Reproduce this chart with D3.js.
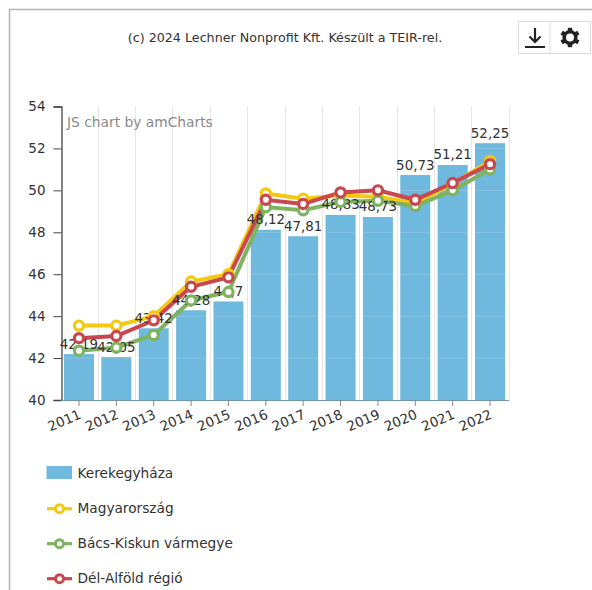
<!DOCTYPE html>
<html><head><meta charset="utf-8">
<script src="https://cdnjs.cloudflare.com/ajax/libs/d3/7.8.5/d3.min.js"></script>
<style>html,body{margin:0;padding:0;background:#fff}svg{display:block}text{font-family:"DejaVu Sans",sans-serif}</style>
</head><body><div id="c"></div>
<script>
const years=["2011","2012","2013","2014","2015","2016","2017","2018","2019","2020","2021","2022"];
const kerekegyhaza=[42.19,42.05,43.42,44.28,44.7,48.12,47.81,48.83,48.73,50.73,51.21,52.25];
const barLabels=["42,19","42,05","43,42","44,28","44,7","48,12","47,81","48,83","48,73","50,73","51,21","52,25"];
const magyarorszag=[43.55,43.55,44.0,45.65,46.0,49.85,49.6,49.75,49.7,49.4,50.3,51.4];
const bacsKiskun=[42.35,42.5,43.1,44.75,45.15,49.2,49.05,49.45,49.5,49.25,50.0,51.0];
const delAlfold=[42.95,43.05,43.8,45.4,45.85,49.55,49.35,49.9,50.0,49.55,50.35,51.25];
const yTicks=[40,42,44,46,48,50,52,54];
const lineSeries=[
 {name:"Magyarország",values:magyarorszag,color:"#f5c811"},
 {name:"Bács-Kiskun vármegye",values:bacsKiskun,color:"#7fb35f"},
 {name:"Dél-Alföld régió",values:delAlfold,color:"#c9474f"}];
const barColor="#6fb8de";
const W=592,H=590,ink="#333";
const svg=d3.select("#c").append("svg").attr("width",W).attr("height",H);
// frame
svg.append("path").attr("d","M9.5,590V9.5H592").attr("fill","none").attr("stroke","#b5b5b5").attr("stroke-width",1.5);
svg.append("text").attr("x",285).attr("y",41.5).attr("text-anchor","middle").attr("font-size",12.7).attr("fill",ink).text("(c) 2024 Lechner Nonprofit Kft. Készült a TEIR-rel.");
// toolbar
const tb=svg.append("g");
tb.append("rect").attr("x",518.5).attr("y",21.5).attr("width",72).attr("height",32).attr("fill","#fff").attr("stroke","#ddd");
tb.append("line").attr("x1",550).attr("x2",550).attr("y1",21.5).attr("y2",53.5).attr("stroke","#ddd");
tb.append("path").attr("d","M535,28V42M529.5,36.5L535,42L540.5,36.5").attr("fill","none").attr("stroke","#222").attr("stroke-width",2.2);
tb.append("line").attr("x1",525).attr("x2",545).attr("y1",47).attr("y2",47).attr("stroke","#222").attr("stroke-width",2);
const gear=tb.append("g").attr("transform","translate(570,37.5)");
gear.append("circle").attr("r",5.8).attr("fill","none").attr("stroke","#222").attr("stroke-width",3.6);
d3.range(6).forEach(i=>gear.append("rect").attr("x",-2.2).attr("y",-9.7).attr("width",4.4).attr("height",4).attr("fill","#222").attr("transform",`rotate(${i*60})`));
// scales
const x=d3.scaleBand().domain(years).range([60.3,508.7]).paddingInner(0.197).paddingOuter(0.0985);
const y=d3.scaleLinear().domain([40,54]).range([400,106.5]);
const cx=d=>x(d)+x.bandwidth()/2;
// vertical grid
const step=x.step();
const g=svg.append("g");
g.selectAll("line.v").data(years).join("line").attr("class","v")
 .attr("x1",d=>Math.round(cx(d)+step/2)+.5).attr("x2",d=>Math.round(cx(d)+step/2)+.5)
 .attr("y1",106.5).attr("y2",400).attr("stroke","#e6e6e6");
// bars
g.selectAll("rect.b").data(years).join("rect").attr("class","b")
 .attr("x",d=>x(d)).attr("width",x.bandwidth())
 .attr("y",(d,i)=>y(kerekegyhaza[i])).attr("height",(d,i)=>400-y(kerekegyhaza[i])).attr("fill",barColor);
// horizontal grid over bars
g.selectAll("line.h").data(yTicks.slice(1)).join("line").attr("class","h")
 .attr("x1",62).attr("x2",508).attr("y1",d=>y(d)).attr("y2",d=>y(d)).attr("stroke","#fff").attr("stroke-opacity",.18);
// axes
const ay=svg.append("g").attr("transform","translate(61.5,0)").call(d3.axisLeft(y).tickValues(yTicks).tickSize(8).tickPadding(8).tickFormat(d3.format("d")));
ay.select(".domain").attr("stroke","#444").attr("stroke-width",1.3);
ay.selectAll("line").attr("stroke","#444");
ay.selectAll("text").attr("font-size",13.5).attr("fill",ink).attr("font-family","DejaVu Sans");
const ax=svg.append("g").attr("transform","translate(0,400)").call(d3.axisBottom(x).tickSize(6).tickSizeOuter(0).tickFormat(d=>d));
ax.select(".domain").attr("stroke","#6d98ad");
ax.selectAll("line").attr("stroke","#888");
ax.selectAll("text").attr("font-size",13.5).attr("fill",ink).attr("font-family","DejaVu Sans").attr("text-anchor","end")
 .attr("y",0).attr("dy",0).attr("transform","translate(3,18) rotate(-23)");
svg.append("text").attr("x",67).attr("y",127).attr("font-size",13.8).attr("fill","#8a8a8a").text("JS chart by amCharts");
// lines
const line=d3.line().x((v,i)=>cx(years[i])).y(v=>y(v));
lineSeries.forEach(s=>{
 svg.append("path").attr("d",line(s.values)).attr("fill","none").attr("stroke",s.color).attr("stroke-width",4);
});
// bar labels
svg.append("g").selectAll("text").data(years).join("text")
 .attr("x",cx).attr("y",(d,i)=>y(kerekegyhaza[i])-5.5).attr("text-anchor","middle").attr("font-size",13.4).attr("fill",ink)
 .text((d,i)=>barLabels[i]);
// markers
lineSeries.forEach(s=>{
 svg.append("g").selectAll("circle").data(s.values).join("circle").attr("cx",(v,i)=>cx(years[i])).attr("cy",v=>y(v)).attr("r",4.6).attr("fill","#fff").attr("stroke",s.color).attr("stroke-width",3.2);
});
// legend
const lg=svg.append("g");
const names=["Kerekegyháza",...lineSeries.map(s=>s.name)];
const ly=d3.scalePoint().domain(names).range([473,578]);
lg.append("rect").attr("x",46.5).attr("y",466).attr("width",25.5).attr("height",13).attr("fill",barColor);
lineSeries.forEach(s=>{
 const yy=ly(s.name)+.7;
 lg.append("line").attr("x1",47).attr("x2",72).attr("y1",yy).attr("y2",yy).attr("stroke",s.color).attr("stroke-width",3.2);
 lg.append("circle").attr("cx",59.5).attr("cy",yy).attr("r",4).attr("fill","#fff").attr("stroke",s.color).attr("stroke-width",3);
});
lg.selectAll("text").data(names).join("text").attr("x",77.5).attr("y",d=>ly(d)+5).attr("font-size",13.7).attr("fill",ink).text(d=>d);
</script></body></html>
